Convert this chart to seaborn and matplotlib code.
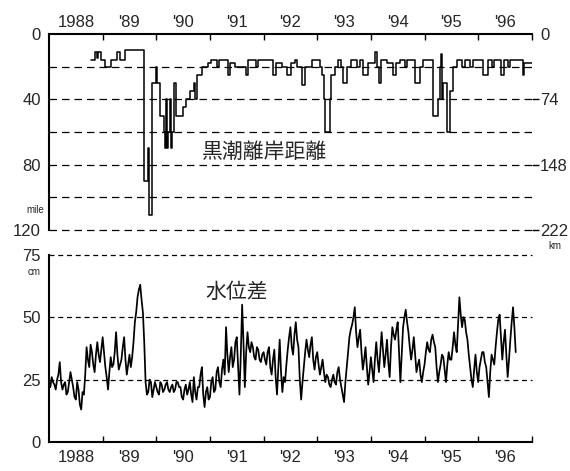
import numpy as np
import pandas as pd
import matplotlib
matplotlib.use("Agg")
import matplotlib.pyplot as plt
import seaborn as sns

# ---- data ----
# Kuroshio offshore distance (mile), step series: change years and values
kuro_years = [1988.78, 1988.86, 1988.89, 1988.92, 1988.96, 1989.05, 1989.16, 1989.27, 1989.33, 1989.42,
              1989.77, 1989.84, 1989.87, 1989.92, 1989.99, 1990.01, 1990.06, 1990.14, 1990.16, 1990.18,
              1990.20, 1990.22, 1990.25, 1990.27, 1990.30, 1990.33, 1990.36, 1990.50, 1990.56, 1990.63,
              1990.70, 1990.73, 1990.75, 1990.85, 1990.96, 1991.02, 1991.13, 1991.17, 1991.34, 1991.37,
              1991.47, 1991.67, 1991.70, 1991.85, 1991.90, 1992.18, 1992.23, 1992.34, 1992.43, 1992.52,
              1992.58, 1992.62, 1992.71, 1992.77, 1992.90, 1993.05, 1993.09, 1993.12, 1993.15, 1993.24,
              1993.26, 1993.33, 1993.38, 1993.44, 1993.48, 1993.56, 1993.63, 1993.75, 1993.80, 1993.85,
              1993.95, 1994.07, 1994.11, 1994.15, 1994.18, 1994.30, 1994.41, 1994.47, 1994.55, 1994.63,
              1994.68, 1994.82, 1994.91, 1994.97, 1995.16, 1995.25, 1995.28, 1995.30, 1995.32, 1995.35,
              1995.41, 1995.47, 1995.53, 1995.60, 1995.70, 1995.75, 1995.85, 1995.90, 1996.09, 1996.18,
              1996.25, 1996.30, 1996.43, 1996.49, 1996.55, 1996.60, 1996.83, 1996.86, 1997.00]
kuro_miles = [16, 11, 15, 11, 16, 20, 16, 11, 16, 10,
              90, 70, 111, 30, 20, 30, 50, 60, 70, 40,
              70, 60, 40, 70, 60, 30, 50, 45, 40, 35,
              30, 40, 25, 20, 18, 16, 20, 16, 25, 18,
              20, 25, 16, 20, 16, 25, 18, 20, 25, 18,
              16, 20, 31, 20, 16, 20, 25, 40, 60, 40,
              25, 20, 16, 20, 30, 20, 16, 20, 16, 25,
              18, 11, 20, 30, 16, 18, 25, 18, 16, 20,
              16, 30, 20, 16, 50, 40, 20, 12, 40, 30,
              60, 35, 20, 16, 20, 16, 20, 16, 25, 16,
              20, 16, 25, 16, 20, 16, 25, 18, 18]

# Water level difference (cm), sampled every 0.025 year from 1988.0
level_start = 1988.0
level_step = 0.025
level_1988 = [24, 22, 26, 24, 23, 21, 25, 27, 32, 24, 21, 23, 24, 19, 20, 24, 28, 25, 22, 18,
              17, 24, 21, 15, 13, 20, 19, 27, 38, 33, 30, 39, 36, 31, 28, 35, 40, 35, 32, 37]
level_1989 = [42, 36, 30, 26, 21, 28, 34, 30, 31, 36, 44, 35, 29, 31, 33, 38, 42, 33, 27, 31,
              35, 30, 34, 40, 48, 52, 58, 61, 63, 57, 52, 40, 24, 19, 20, 25, 24, 18, 21, 24]
level_1990 = [22, 20, 19, 24, 23, 20, 21, 23, 24, 21, 20, 22, 23, 20, 21, 24, 24, 22, 22, 18,
              17, 21, 23, 19, 21, 24, 19, 16, 26, 20, 17, 22, 22, 27, 30, 19, 14, 20, 22, 17]
level_1991 = [18, 24, 26, 20, 21, 28, 30, 24, 22, 29, 33, 27, 46, 35, 28, 34, 38, 30, 33, 40,
              42, 30, 19, 35, 55, 40, 22, 36, 44, 38, 36, 40, 38, 34, 33, 38, 37, 33, 32, 35]
level_1992 = [36, 33, 31, 36, 38, 30, 27, 33, 37, 26, 19, 30, 41, 28, 20, 26, 24, 31, 37, 42,
              46, 38, 35, 43, 48, 41, 38, 25, 17, 24, 30, 36, 41, 37, 34, 39, 42, 33, 29, 34]
level_1993 = [36, 31, 27, 30, 33, 28, 24, 27, 26, 23, 22, 25, 27, 24, 23, 28, 30, 25, 22, 19,
              16, 24, 30, 36, 42, 45, 47, 50, 54, 44, 38, 42, 45, 36, 29, 33, 38, 30, 23, 28]
level_1994 = [34, 29, 24, 33, 40, 33, 28, 36, 44, 37, 30, 35, 41, 32, 26, 38, 46, 43, 41, 45,
              48, 36, 24, 35, 46, 50, 53, 48, 44, 38, 33, 37, 42, 35, 28, 31, 33, 27, 24, 28]
level_1995 = [31, 36, 40, 37, 36, 41, 43, 40, 38, 30, 24, 28, 31, 35, 34, 29, 24, 31, 36, 33,
              33, 38, 44, 39, 36, 47, 58, 51, 46, 50, 49, 44, 41, 35, 30, 25, 22, 29, 35, 28]
level_1996 = [24, 30, 33, 36, 36, 32, 30, 24, 18, 28, 35, 33, 31, 38, 44, 49, 51, 42, 33, 40,
              45, 35, 26, 33, 41, 48, 54, 46, 36]

year_labels = ["1988", "'89", "'90", "'91", "'92", "'93", "'94", "'95", "'96"]
mile_ticks = [0, 40, 80, 120]
km_labels = ["0", "74", "148", "222"]
cm_ticks = [0, 25, 50, 75]

level_cm = (level_1988 + level_1989 + level_1990 + level_1991 + level_1992
            + level_1993 + level_1994 + level_1995 + level_1996)
kuro = pd.DataFrame({"year": kuro_years, "mile": kuro_miles})
level = pd.DataFrame({"year": level_start + level_step * np.arange(len(level_cm)),
                      "cm": level_cm})

# ---- style ----
sns.set_theme(style="white")
plt.rcParams["font.family"] = ["Liberation Sans", "DejaVu Sans"]
jp = ["Noto Sans CJK JP", "DejaVu Sans"]

fig = plt.figure(figsize=(5.7, 4.71), dpi=100)
ax1 = fig.add_axes([0.086, 0.512, 0.847, 0.416])
ax2 = fig.add_axes([0.086, 0.0616, 0.847, 0.3974])

major = np.arange(1989, 1998)
minor = np.arange(len(year_labels)) + 1988.5

# ---- top panel ----
sns.lineplot(data=kuro, x="year", y="mile", ax=ax1, color="black", lw=1.1,
             drawstyle="steps-post", estimator=None, sort=False)
ax1.set_xlim(1988, 1997)
ax1.set_ylim(120, 0)
for v in [20, 40, 60, 80, 100, 120]:
    ax1.axhline(v, color="black", lw=0.9, ls=(0, (6, 4)), clip_on=False, zorder=1)
for s in ["right", "bottom"]:
    ax1.spines[s].set_visible(False)
for s in ["left", "top"]:
    ax1.spines[s].set_color("black")
    ax1.spines[s].set_linewidth(1.5)
ax1.xaxis.tick_top()
ax1.set_xticks(major)
ax1.set_xticklabels([])
ax1.set_xticks(minor, minor=True)
ax1.set_xticklabels(year_labels, minor=True)
ax1.tick_params(axis="x", which="major", direction="in", length=4, width=1, color="black", top=True)
ax1.tick_params(axis="x", which="minor", length=0, labelsize=12, pad=3, top=True)
ax1.set_yticks(mile_ticks)
ax1.set_yticklabels([str(t) for t in mile_ticks])
ax1.tick_params(axis="y", length=0, labelsize=12, pad=6)
ax1.set_xlabel("")
ax1.set_ylabel("")

ax1r = ax1.twinx()
ax1r.set_ylim(120, 0)
ax1r.set_yticks(mile_ticks)
ax1r.set_yticklabels(km_labels)
ax1r.tick_params(axis="y", direction="out", length=5, width=1, color="black", labelsize=12, pad=1)
ax1r.yaxis.get_major_ticks()[0].tick2line.set_visible(False)
for s in ax1r.spines.values():
    s.set_visible(False)

fig.text(26 / 570, 1 - 210 / 471, "mile", fontsize=7, va="center", ha="left")
fig.text(548 / 570, 1 - 246 / 471, "km", fontsize=7, va="center", ha="left")
fig.text(202 / 570, 1 - 152 / 471, "黒潮離岸距離", fontsize=15, family=jp, va="center", ha="left")

# ---- bottom panel ----
sns.lineplot(data=level, x="year", y="cm", ax=ax2, color="black", lw=1.25,
             estimator=None, sort=False)
ax2.set_xlim(1988, 1997)
ax2.set_ylim(0, 75)
for v in [25, 50, 75]:
    ax2.axhline(v, color="black", lw=0.9, ls=(0, (4, 3)), clip_on=False, zorder=1)
for s in ["right", "top"]:
    ax2.spines[s].set_visible(False)
for s in ["left", "bottom"]:
    ax2.spines[s].set_color("black")
    ax2.spines[s].set_linewidth(1.5)
ax2.set_xticks(major)
ax2.set_xticklabels([])
ax2.set_xticks(minor, minor=True)
ax2.set_xticklabels(year_labels, minor=True)
ax2.tick_params(axis="x", which="major", direction="in", length=4, width=1, color="black", bottom=True)
ax2.tick_params(axis="x", which="minor", length=0, labelsize=12, pad=6, bottom=True)
ax2.set_yticks(cm_ticks)
ax2.set_yticklabels([str(t) for t in cm_ticks])
ax2.tick_params(axis="y", length=0, labelsize=12, pad=6)
ax2.set_xlabel("")
ax2.set_ylabel("")

fig.text(28 / 570, 1 - 272 / 471, "cm", fontsize=7, va="center", ha="left")
fig.text(205 / 570, 1 - 292 / 471, "水位差", fontsize=15, family=jp, va="center", ha="left")

fig.savefig("out.png", dpi=100)
